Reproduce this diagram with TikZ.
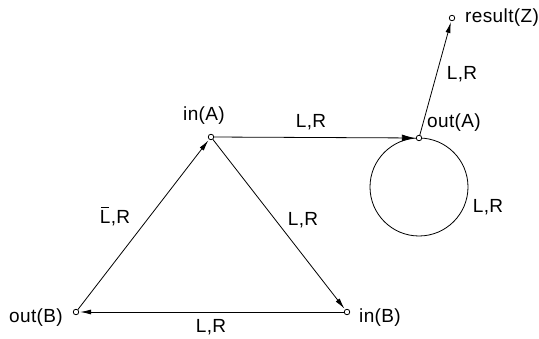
\documentclass[tikz,border=0pt]{standalone}
\usepackage{fontspec}
\setmainfont{Liberation Sans}[LetterSpace=2]
\usetikzlibrary{arrows.meta,backgrounds,calc}
\newcommand{\barL}{\makebox[0pt][l]{\hspace{1pt}\rule[16.5pt]{8pt}{0.9pt}}L}
\begin{document}
\begin{tikzpicture}[x=1pt,y=1pt,
  dot/.style={circle,draw,fill=white,inner sep=0pt,minimum size=5.5pt,line width=0.8pt},
  lbl/.style={font=\fontsize{19}{22}\selectfont,inner sep=0pt,anchor=base},
  edge/.style={line width=0.8pt,-{Latex[length=11pt,width=5pt]},shorten >=1pt},
  bigedge/.style={line width=0.8pt,-{Latex[length=13pt,width=7pt]},shorten >=1pt}]
\useasboundingbox (0,0) rectangle (539,338);
\node[dot] (inA) at (211,201) {};
\node[dot] (outA) at (419,200) {};
\node[dot] (inB) at (347,26) {};
\node[dot] (outB) at (76,26) {};
\node[dot] (resZ) at (452,320) {};
\begin{pgfonlayer}{background}
\draw[line width=0.8pt] ($(outA)+(0,-49)$) circle[radius=49];
\end{pgfonlayer}
\draw[edge] (outB) -- (inA);
\draw[bigedge] (inA) -- (outA);
\draw[edge] (inA) -- (inB);
\draw[edge] (inB) -- (outB);
\draw[edge] (outA) -- (resZ);
\node[lbl] (tinA) at (204,217) {in(A)};
\node[lbl,anchor=base west] (toutA) at (427,210) {out(A)};
\node[lbl,anchor=base west] (tres) at (465,315) {result(Z)};
\node[lbl] (l1) at (311,210) {L,R};
\node[lbl] (l2) at (462,258) {L,R};
\node[lbl] (l3) at (488,125) {L,R};
\node[lbl] (l4) at (303,113) {L,R};
\node[lbl] (l5) at (115,114) {\barL,R};
\node[lbl,anchor=base east] (toutB) at (63,16) {out(B)};
\node[lbl,anchor=base west] (tinB) at (359,16) {in(B)};
\node[lbl] (l6) at (211,6) {L,R};
\end{tikzpicture}
\end{document}
